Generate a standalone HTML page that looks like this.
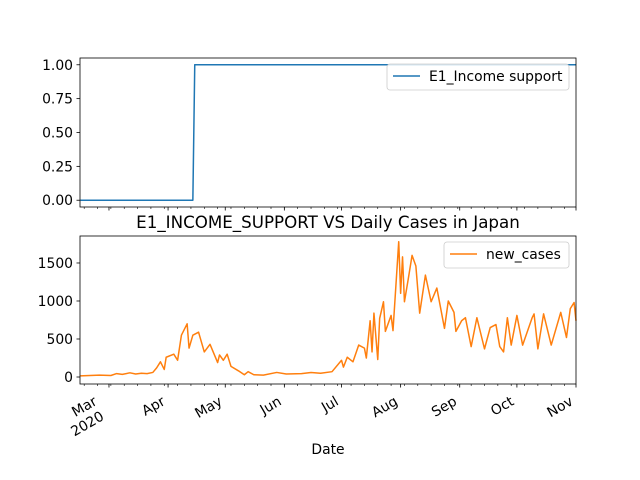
<!DOCTYPE html>
<html><head><meta charset="utf-8"><style>
body{margin:0;background:#fff}
svg{display:block;font-family:"DejaVu Sans","Liberation Sans",sans-serif}
</style></head><body>
<svg id="c" width="640" height="480"></svg>
<script>
const monthLabels=["Mar","Apr","May","Jun","Jul","Aug","Sep","Oct","Nov"];
const monthDays=[0,31,61,92,122,153,184,214,245];
const topTicks=[0,0.25,0.5,0.75,1];
const botTicks=[0,500,1000,1500];
const supportDays=[-15,44,45,245];
const supportValues=[0,0,1,1];
const caseDays=[-15,-10,-5,1,4,7,11,14,17,20,23,25,27,29,30,34,36,38,41,42,44,47,50,53,57,58,60,62,64,68,71,73,76,81,88,93,101,106,111,117,122,123,125,128,131,134,135,137,138,139,141,142,144,145,148,149,152,153,154,155,157,159,161,163,166,169,172,176,178,181,182,185,187,190,193,197,200,203,205,207,209,211,214,217,222,223,225,228,232,237,240,242,244,245];
const caseValues=[15,20,25,20,45,35,55,40,50,45,60,120,200,100,260,300,220,550,700,380,550,590,330,430,190,290,220,300,140,80,30,70,30,25,60,40,45,60,50,70,220,130,260,200,420,380,250,740,330,840,230,770,990,600,810,610,1780,1100,1580,990,1290,1600,1460,840,1340,990,1170,640,1000,850,600,740,780,400,780,370,650,690,400,330,780,420,810,420,780,830,370,830,420,850,520,900,980,740];

const NS="http://www.w3.org/2000/svg";
const svg=document.getElementById('c');
const L=80,R=576,D0=-15.2,D1=245;
const xS=d=>L+(R-L)*(d-D0)/(D1-D0);
const topY=v=>207-(v+0.05)/1.1*149;
const botY=v=>384-(v+92)/(1947)*148;
function mk(t,a,p){const e=document.createElementNS(NS,t);for(const k in a)e.setAttribute(k,a[k]);(p||svg).appendChild(e);return e;}

function axes(y0,y1,name,ticks,yf,fmt){
  const g=mk('g',{});
  
  
  ticks.forEach(t=>{const y=yf(t);
    mk('line',{x1:L-3.5,x2:L,y1:y,y2:y,stroke:'#000','stroke-width':0.8},g);
    const tx=mk('text',{x:L-7,y:y+5,'text-anchor':'end','font-size':13.9},g);tx.textContent=fmt(t);
    
    
  });
  monthDays.forEach(d=>mk('line',{x1:xS(d),x2:xS(d),y1:y1,y2:y1+3.5,stroke:'#000','stroke-width':0.8},g));
  for(let d=-13;d<=D1;d+=7) mk('line',{x1:xS(d),x2:xS(d),y1:y1,y2:y1+2,stroke:'#000','stroke-width':0.6},g);
  return g;
}
axes(58,207,'top-axes',topTicks,topY,t=>t.toFixed(2));
axes(236,384,'bottom-axes',botTicks,botY,t=>String(t));

function line(days,vals,yf,color,name){
  const p=mk('polyline',{points:days.map((d,i)=>xS(d)+','+yf(vals[i])).join(' '),fill:'none',stroke:color,'stroke-width':1.5,'stroke-linejoin':'round'});
  
  
}
line(supportDays,supportValues,topY,'#1f77b4','income-support-line');
line(caseDays,caseValues,botY,'#ff7f0e','new-cases-line');

mk('rect',{x:L,y:58,width:R-L,height:149,fill:'none',stroke:'#000','stroke-width':0.8});
mk('rect',{x:L,y:236,width:R-L,height:148,fill:'none',stroke:'#000','stroke-width':0.8});

monthLabels.forEach((m,i)=>{const x=xS(monthDays[i])-(i===0?11:2);
  const t=mk('text',{x:x,y:404,'text-anchor':'end','font-size':13.9,transform:`rotate(-30 ${x} 404)`});t.textContent=m;
  
  
});
const yx=xS(0)-4;
const yr=mk('text',{x:yx,y:419,'text-anchor':'end','font-size':13.9,transform:`rotate(-30 ${yx} 419)`});yr.textContent='2020';



const ti=mk('text',{x:328,y:228,'text-anchor':'middle','font-size':16.7});ti.textContent='E1_INCOME_SUPPORT VS Daily Cases in Japan';


const xl=mk('text',{x:328,y:454,'text-anchor':'middle','font-size':13.9});xl.textContent='Date';



function legend(x,y,w,label,color,name){
  const g=mk('g',{});
  
  
  mk('rect',{x:x,y:y,width:w,height:26,rx:3,fill:'#fff','fill-opacity':0.8,stroke:'#ccc','stroke-width':0.8},g);
  mk('line',{x1:x+6,x2:x+33,y1:y+12,y2:y+12,stroke:color,'stroke-width':1.5},g);
  const t=mk('text',{x:x+42,y:y+17,'font-size':13.9},g);t.textContent=label;
}
legend(387,64,182,'E1_Income support','#1f77b4','legend-income-support');
legend(444,242,125,'new_cases','#ff7f0e','legend-new-cases');
</script>
</body></html>
